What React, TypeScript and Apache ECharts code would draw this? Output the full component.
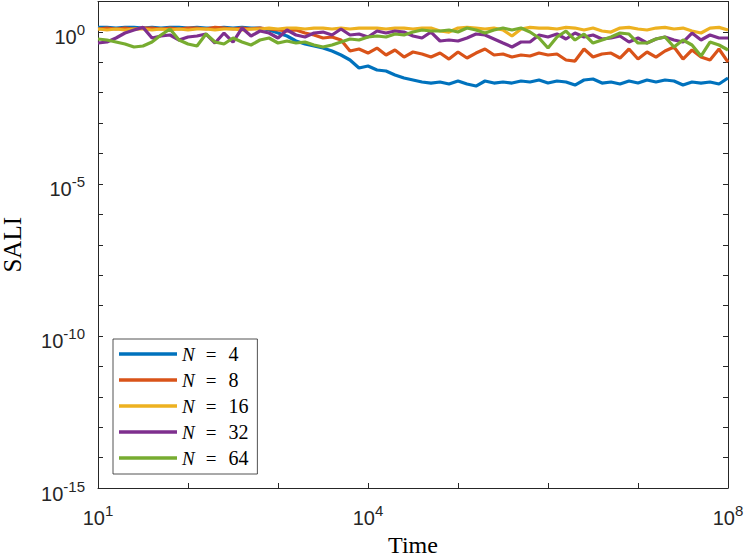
import React, { useEffect, useRef } from "react";
import * as echarts from "echarts";

// x grid: log-spaced sample times, 10^1 .. 10^8 (step 0.1 decade)
const times: number[] = Array.from({ length: 71 }, (_, i) => Math.pow(10, 1 + i / 10));

const seriesNames = ["N = 4", "N = 8", "N = 16", "N = 32", "N = 64"];
const legendNumbers = ["4", "8", "16", "32", "64"];
const colors = ["#0072BD", "#D95319", "#EDB120", "#7E2F8E", "#77AC30"];

const xTickLabelExps = [1, 4, 8];
const yTickLabelExps = [-15, -10, -5, 0];

const saliN4 = [
  1.41, 1.41, 1.34, 1.41, 1.41, 1.34, 1.41, 1.34, 1.41, 1.41, 1.34, 1.41, 1.34, 1.34, 1.41, 1.34, 1.41, 1.34, 1.34,
  1.155, 0.92, 0.733, 0.502, 0.4, 0.344, 0.295, 0.235, 0.174, 0.119, 0.0649, 0.0755,
  0.0558, 0.0517, 0.0382, 0.0304, 0.0262, 0.0225, 0.0208, 0.0225, 0.0193, 0.0243,
  0.0193, 0.0166, 0.0243, 0.0208, 0.0225, 0.0208, 0.0243, 0.0225, 0.0262, 0.0208,
  0.0243, 0.0225, 0.0179, 0.0262, 0.0282, 0.0208, 0.0225, 0.0193, 0.0243, 0.0208,
  0.0262, 0.0225, 0.0262, 0.0243, 0.0179, 0.0225, 0.0208, 0.0225, 0.0193, 0.0304,
];

const saliN8 = [
  1.245, 1.34, 1.245, 1.34, 1.245, 1.34, 1.34, 1.245, 1.34, 1.245, 1.34, 1.34, 1.245, 1.41, 1.34, 1.245, 1.34, 1.245, 1.34,
  1.245, 1.155, 1.07, 1.155, 0.92, 0.791, 0.63, 0.68, 0.541,
  0.235, 0.274, 0.202, 0.295, 0.174, 0.254, 0.149, 0.218, 0.1875, 0.149,
  0.202, 0.128, 0.218, 0.1385, 0.202, 0.274, 0.174, 0.1875, 0.149, 0.174,
  0.161, 0.202, 0.174, 0.1875, 0.119, 0.11, 0.274, 0.149, 0.1875, 0.202,
  0.1385, 0.274, 0.128, 0.218, 0.149, 0.235, 0.319, 0.128, 0.254, 0.149,
  0.119, 0.274, 0.102,
];

const saliN16 = [
  1.245, 1.155, 1.245, 1.155, 1.245, 1.245, 1.155, 1.245, 1.155, 1.245, 1.155, 1.245, 1.245, 1.155, 1.245, 1.245, 1.155, 1.245, 1.245,
  1.34, 1.245, 1.34, 1.34, 1.245, 1.34, 1.34, 1.245, 1.34, 1.245, 1.34, 1.34,
  1.34, 1.245, 1.34, 1.34, 1.245, 1.34, 1.34, 1.07, 0.99, 1.34,
  1.41, 1.34, 1.245, 1.34, 1.155, 0.733, 1.245, 1.41, 1.34, 1.34,
  1.245, 1.41, 1.34, 1.155, 1.34, 1.07, 0.99, 1.34, 1.41, 1.245,
  1.155, 1.34, 1.41, 1.245, 1.34, 1.07, 0.92, 1.34, 1.41, 1.155,
];

const saliN32 = [
  0.431, 0.465, 0.63, 0.92, 1.155, 1.41, 0.63, 0.733, 0.791, 0.541,
  0.68, 0.733, 0.853, 0.431, 0.92, 0.465, 1.34, 0.733, 1.07, 0.92,
  0.63, 1.155, 0.791, 0.68, 0.92, 0.99, 0.791, 1.245, 0.791, 0.853,
  0.68, 1.07, 0.92, 1.07, 0.99, 0.733, 0.63, 0.99, 0.502, 0.541,
  0.502, 0.63, 0.853, 0.791, 0.584, 0.431, 0.319, 0.465, 0.465, 0.791,
  0.68, 0.853, 0.584, 0.92, 0.68, 0.791, 0.584, 0.63, 0.733, 0.465,
  0.63, 0.431, 0.584, 0.68, 0.541, 0.465, 0.92, 0.541, 0.791, 0.63, 0.63,
];

const saliN64 = [
  0.584, 0.541, 0.465, 0.4, 0.319, 0.344, 0.465, 0.791, 1.245, 0.541,
  0.4, 0.344, 0.853, 0.465, 0.4, 0.63, 0.465, 0.371, 0.541, 0.63,
  0.431, 0.502, 0.431, 0.465, 0.371, 0.319, 0.371, 0.465, 0.584, 0.541,
  0.68, 0.733, 0.68, 0.853, 0.791, 0.99, 1.155, 1.07, 1.07, 1.155,
  0.99, 1.34, 1.155, 0.92, 1.155, 1.34, 1.155, 1.34, 0.99, 0.63,
  0.295, 0.68, 1.07, 0.541, 0.853, 0.431, 0.541, 0.68, 0.92, 0.853,
  0.431, 0.431, 0.584, 0.68, 0.319, 0.541, 0.371, 0.161, 0.465, 0.371, 0.254,
];

const allSeries = [saliN4, saliN8, saliN16, saliN32, saliN64];

export default function App() {
  const ref = useRef<HTMLDivElement>(null);

  useEffect(() => {
    if (!ref.current) return;
    const chart = echarts.init(ref.current, null, { renderer: "svg" });
    const axisColor = "#262626";
    const sans = "'Liberation Sans', Arial, Helvetica, sans-serif";
    const serif = "'Liberation Serif', 'Times New Roman', serif";

    const rich = {
      base: { fontSize: 20, lineHeight: 30, fontFamily: sans, color: axisColor },
      sup: { fontSize: 15, verticalAlign: "top", fontFamily: sans, color: axisColor },
    };
    const fmt = (allowed: number[]) => (v: number) => {
      const e = Math.round(v);
      return Math.abs(v - e) < 1e-9 && allowed.includes(e) ? `{base|10}{sup|${e}}` : "";
    };

    const axisLine = { show: true, onZero: false, lineStyle: { color: axisColor, width: 1 } };
    const axisTick = { show: true, inside: true, length: 5, lineStyle: { color: axisColor, width: 1 } };

    const option: any = {
      animation: false,
      backgroundColor: "#ffffff",
      color: colors,
      grid: { left: 98, right: 19, top: 1.5, bottom: 70, containLabel: false, outerBoundsMode: "none" },
      xAxis: [
        {
          type: "value",
          position: "bottom",
          min: 1,
          max: 8,
          interval: 1,
          name: "Time",
          nameLocation: "middle",
          nameGap: 48,
          nameTextStyle: { fontFamily: serif, fontSize: 24, lineHeight: 16, color: "#000" },
          axisLine,
          axisTick,
          axisLabel: { margin: 15, fontSize: 20, fontFamily: sans, color: axisColor, formatter: fmt(xTickLabelExps), rich },
          splitLine: { show: false },
        },
        {
          type: "value",
          position: "top",
          min: 1,
          max: 8,
          interval: 1,
          axisLine,
          axisTick,
          axisLabel: { show: false },
          splitLine: { show: false },
        },
      ],
      yAxis: [
        {
          type: "value",
          position: "left",
          min: -15,
          max: 1,
          interval: 1,
          name: "SALI",
          nameLocation: "middle",
          nameGap: 80,
          nameRotate: 90,
          nameTextStyle: { fontFamily: serif, fontSize: 25, lineHeight: 12, color: "#000" },
          axisLine,
          axisTick,
          axisLabel: {
            margin: 13,
            fontSize: 20,
            fontFamily: sans,
            color: axisColor,
            formatter: fmt(yTickLabelExps),
            rich,
            padding: [11, 0, 0, 0],
          },
          splitLine: { show: false },
        },
        {
          type: "value",
          position: "right",
          min: -15,
          max: 1,
          interval: 1,
          axisLine,
          axisTick,
          axisLabel: { show: false },
          splitLine: { show: false },
        },
      ],
      legend: {
        orient: "vertical",
        left: 113,
        top: 339,
        padding: [5, 9, 6, 6],
        itemWidth: 58,
        itemHeight: 3.5,
        itemGap: 6,
        icon: "rect",
        selectedMode: false,
        backgroundColor: "#ffffff",
        borderColor: axisColor,
        borderWidth: 0.8,
        borderRadius: 0,
        data: seriesNames,
        formatter: (name: string) => {
          const k = seriesNames.indexOf(name);
          return `{n|N}{e|=}{v|${legendNumbers[k]}}`;
        },
        textStyle: {
          fontFamily: serif,
          fontSize: 19,
          color: "#000",
          lineHeight: 20,
          rich: {
            n: { fontFamily: serif, fontSize: 19, fontStyle: "italic", color: "#000", lineHeight: 20 },
            e: { fontFamily: serif, fontSize: 19, color: "#000", padding: [0, 12, 0, 11], lineHeight: 20 },
            v: { fontFamily: serif, fontSize: 20, color: "#000", lineHeight: 20 },
          },
        },
      },
      series: seriesNames.map((name, k) => ({
        type: "line",
        name,
        xAxisIndex: 0,
        yAxisIndex: 0,
        showSymbol: false,
        symbol: "none",
        lineStyle: { width: 3.2, color: colors[k] },
        itemStyle: { color: colors[k] },
        data: times.map((t, i) => [Math.log10(t), Math.log10(allSeries[k][i])]),
      })),
    };

    chart.setOption(option);
    return () => chart.dispose();
  }, []);

  return (
    <div
      ref={ref}
      style={{ position: "fixed", left: 0, top: 0, width: 747, height: 558, background: "#ffffff" }}
    />
  );
}
